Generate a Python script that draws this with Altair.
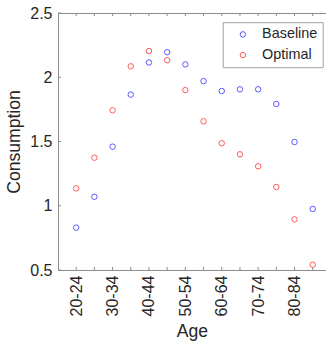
import altair as alt
import pandas as pd

ages = ['20-24', '25-29', '30-34', '35-39', '40-44', '45-49', '50-54',
        '55-59', '60-64', '65-69', '70-74', '75-79', '80-84', '85-89']
baseline = [0.83, 1.07, 1.46, 1.865, 2.115, 2.195, 2.10, 1.97, 1.893, 1.906,
            1.906, 1.792, 1.496, 0.975]
optimal = [1.135, 1.374, 1.743, 2.085, 2.204, 2.132, 1.90, 1.657, 1.486, 1.40,
           1.307, 1.146, 0.894, 0.541]
y_ticks = [0.5, 1, 1.5, 2, 2.5]
series = ['Baseline', 'Optimal']
colors = ['#5a5aff', '#ff5a5a']

rows = []
for name, vals in zip(series, [baseline, optimal]):
    for i, (a, v) in enumerate(zip(ages, vals)):
        rows.append({'idx': i + 1, 'age': a, 'series': name, 'value': v})
df = pd.DataFrame(rows)

xt = pd.DataFrame({'idx': list(range(1, len(ages) + 1))})
yt = pd.DataFrame({'value': y_ticks})

FONT = 'Liberation Sans'
TXT = '#262626'
AX = '#8c8c8c'
W, H = 268, 257

label_arr = '[' + ','.join("'" + a + "'" for a in ages) + ']'
x_label_expr = "datum.value % 2 == 1 ? " + label_arr + "[datum.value - 1] : ''"

xscale = alt.Scale(domain=[0, 14.73], nice=False, zero=False)
yscale = alt.Scale(domain=[0.5, 2.5], nice=False, zero=False)

xaxis = alt.Axis(values=list(range(1, len(ages) + 1)), labelExpr=x_label_expr,
                 title='Age', labelAngle=-90, labelAlign='right', labelBaseline='middle',
                 ticks=False, tickSize=0, labelPadding=5, labelOverlap=False,
                 labelFlush=False, grid=False, domainColor=AX, domainWidth=1,
                 labelFont=FONT, labelFontSize=16, labelColor=TXT,
                 titleFont=FONT, titleFontSize=17.6, titleFontWeight='normal',
                 titleColor=TXT, titlePadding=7)
yaxis = alt.Axis(values=y_ticks, format='~g', title='Consumption',
                 ticks=False, tickSize=0, labelPadding=6, labelOverlap=False,
                 labelFlush=False, grid=False, domainColor=AX, domainWidth=1,
                 labelFont=FONT, labelFontSize=16, labelColor=TXT,
                 titleFont=FONT, titleFontSize=17.6, titleFontWeight='normal',
                 titleColor=TXT, titlePadding=6)

points = alt.Chart(df).mark_point(filled=False, size=30, strokeWidth=1, opacity=1).encode(
    x=alt.X('idx:Q', scale=xscale, axis=xaxis),
    y=alt.Y('value:Q', scale=yscale, axis=yaxis),
    color=alt.Color('series:N', scale=alt.Scale(domain=series, range=colors),
                    legend=alt.Legend(orient='none', legendX=164.7, legendY=9.2, title=None,
                                      padding=5, symbolOffset=8, labelOffset=12, rowPadding=5.6,
                                      strokeColor='#a0a0a0', fillColor='white',
                                      labelFont=FONT, labelFontSize=14.4, labelColor=TXT,
                                      symbolType='circle', symbolSize=30, symbolStrokeWidth=1,
                                      symbolFillColor='transparent')),
)

tick_bottom = alt.Chart(xt).mark_rule(color=AX, strokeWidth=1).encode(
    x=alt.X('idx:Q', scale=xscale, axis=xaxis), y=alt.value(H), y2=alt.value(H - 3))
tick_top = alt.Chart(xt).mark_rule(color=AX, strokeWidth=1).encode(
    x=alt.X('idx:Q', scale=xscale, axis=xaxis), y=alt.value(0), y2=alt.value(3))
tick_left = alt.Chart(yt).mark_rule(color=AX, strokeWidth=1).encode(
    y=alt.Y('value:Q', scale=yscale, axis=yaxis), x=alt.value(0), x2=alt.value(3))
top_line = alt.Chart(xt).mark_rule(color=AX, strokeWidth=1).encode(
    x=alt.value(0), x2=alt.value(W), y=alt.value(0.5))

chart = alt.layer(points, top_line, tick_bottom, tick_top, tick_left).properties(
    width=W, height=H,
    background='white',
    autosize=alt.AutoSizeParams(type='none'),
    padding={'left': 58, 'top': 13, 'right': 0, 'bottom': 73},
).configure_view(strokeWidth=0)

chart.save('out.html', embed_options={'renderer': 'svg', 'actions': False})
